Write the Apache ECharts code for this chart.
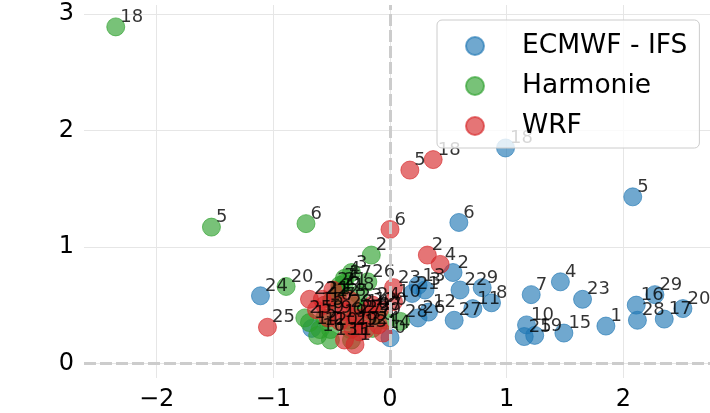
<!DOCTYPE html>
<html>
<head>
<meta charset="utf-8">
<script src="https://cdn.jsdelivr.net/npm/echarts@6/dist/echarts.min.js"></script>
<style>
  html, body { margin: 0; padding: 0; background: #fff; }
  #chart { width: 710px; height: 413px; }
</style>
</head>
<body>
<div id="chart"></div>
<script>
// Day labels attached to each point
const days = [0, 1, 2, 3, 4, 5, 6, 7, 8, 9, 10, 11, 12, 13, 14, 15, 16, 17, 18, 19, 20, 21, 22, 23, 24, 25, 26, 27, 28, 29];

// ECMWF - IFS
const ifsX = [0.00, 1.85, 0.54, 0.30, 1.46, 2.08, 0.59, 1.21, 0.87, 0.79, 1.17, 0.71, 0.33, 0.24, -0.67, 1.49, 2.11, 2.35, 0.99, 1.24, 2.51, 0.19, 0.60, 1.65, -1.11, 1.15, 0.24, 0.55, 2.12, 2.27];
const ifsY = [0.22, 0.32, 0.78, 0.63, 0.70, 1.43, 1.21, 0.59, 0.52, 0.65, 0.33, 0.47, 0.44, 0.67, 0.30, 0.26, 0.50, 0.38, 1.85, 0.24, 0.47, 0.60, 0.63, 0.55, 0.58, 0.23, 0.39, 0.37, 0.37, 0.59];

// Harmonie
const harmX = [-0.36, -0.33, -0.16, -0.33, -0.39, -1.53, -0.72, -0.43, -0.27, -0.04, -0.51, -0.45, -0.60, -0.51, -0.24, -0.69, -0.62, -0.39, -2.35, -0.56, -0.89, -0.43, -0.50, -0.30, -0.15, -0.73, -0.19, -0.13, 0.09, -0.34];
const harmY = [0.37, 0.20, 0.93, 0.78, 0.73, 1.17, 1.20, 0.67, 0.59, 0.37, 0.29, 0.58, 0.29, 0.20, 0.44, 0.35, 0.24, 0.69, 2.89, 0.39, 0.66, 0.63, 0.54, 0.49, 0.30, 0.39, 0.70, 0.42, 0.36, 0.29];

// WRF
const wrfX = [-0.10, -0.30, 0.32, -0.21, 0.43, 0.17, 0.00, -0.43, -0.34, -0.53, 0.03, -0.39, -0.17, -0.26, -0.06, -0.63, -0.56, -0.32, 0.37, -0.43, -0.09, -0.58, -0.69, 0.03, -0.15, -1.05, -0.49, -0.30, -0.38, -0.24];
const wrfY = [0.33, 0.16, 0.93, 0.29, 0.85, 1.66, 1.15, 0.50, 0.54, 0.39, 0.53, 0.20, 0.46, 0.27, 0.26, 0.46, 0.50, 0.30, 1.75, 0.36, 0.46, 0.55, 0.55, 0.65, 0.50, 0.31, 0.63, 0.39, 0.44, 0.39];

// Axis ticks
const xTicks = [-2, -1, 0, 1, 2];
const yTicks = [0, 1, 2, 3];

const seriesNames = ['ECMWF - IFS', 'Harmonie', 'WRF'];
const seriesFill = ['rgba(31,119,180,0.8)', 'rgba(44,160,44,0.8)', 'rgba(214,39,40,0.8)'];

const FONT = 'DejaVu Sans';

function zip(xs, ys) {
  return xs.map((x, i) => [x, ys[i], days[i]]);
}

function scatter(name, color, data) {
  return {
    name: name,
    type: 'scatter',
    data: data,
    symbol: 'circle',
    symbolSize: 18,
    itemStyle: { color: color, borderColor: color, borderWidth: 1 },
    label: {
      show: true,
      position: [14, 0],
      align: 'left',
      verticalAlign: 'middle',
      formatter: p => String(p.data[2]),
      color: '#000',
      fontFamily: FONT,
      fontSize: 18
    },
    emphasis: { disabled: true },
    z: 3
  };
}

const minus = v => String(v).replace('-', '\u2212');

const chart = echarts.init(document.getElementById('chart'), null, { renderer: 'canvas' });

chart.setOption({
  animation: false,
  backgroundColor: '#fff',
  grid: { left: 84, right: 0, top: 5, bottom: 35, containLabel: false },
  xAxis: {
    type: 'value',
    min: -2.622,
    max: 2.742,
    axisLine: { show: false },
    axisTick: { show: false, customValues: xTicks },
    axisLabel: {
      customValues: xTicks,
      formatter: minus,
      color: '#000',
      fontFamily: FONT,
      fontSize: 24,
      margin: 10
    },
    splitLine: { show: true, lineStyle: { color: '#e6e6e6', width: 1 } }
  },
  yAxis: {
    type: 'value',
    min: -0.126,
    max: 3.078,
    axisLine: { show: false },
    axisTick: { show: false, customValues: yTicks },
    axisLabel: {
      customValues: yTicks,
      formatter: minus,
      color: '#000',
      fontFamily: FONT,
      fontSize: 24,
      margin: 10
    },
    splitLine: { show: true, lineStyle: { color: '#e6e6e6', width: 1 } }
  },
  legend: {
    data: seriesNames,
    orient: 'vertical',
    left: 437,
    top: 20,
    icon: 'circle',
    itemWidth: 18,
    itemHeight: 18,
    itemGap: 10,
    padding: [11, 12, 7, 28],
    backgroundColor: 'rgba(255,255,255,0.8)',
    borderColor: '#cccccc',
    borderWidth: 1,
    borderRadius: 5,
    textStyle: {
      color: '#000',
      fontFamily: FONT,
      fontSize: 26.5,
      lineHeight: 30,
      padding: [0, 0, 0, 33]
    },
    selectedMode: false,
    z: 10
  },
  series: [
    {
      name: 'zero-lines',
      type: 'scatter',
      data: [],
      silent: true,
      z: 1,
      markLine: {
        silent: true,
        symbol: 'none',
        label: { show: false },
        lineStyle: { color: '#cccccc', width: 3, type: [12, 4] },
        data: [{ xAxis: 0 }, { yAxis: 0 }]
      }
    },
    scatter(seriesNames[0], seriesFill[0], zip(ifsX, ifsY)),
    scatter(seriesNames[1], seriesFill[1], zip(harmX, harmY)),
    scatter(seriesNames[2], seriesFill[2], zip(wrfX, wrfY))
  ]
});
</script>
</body>
</html>
